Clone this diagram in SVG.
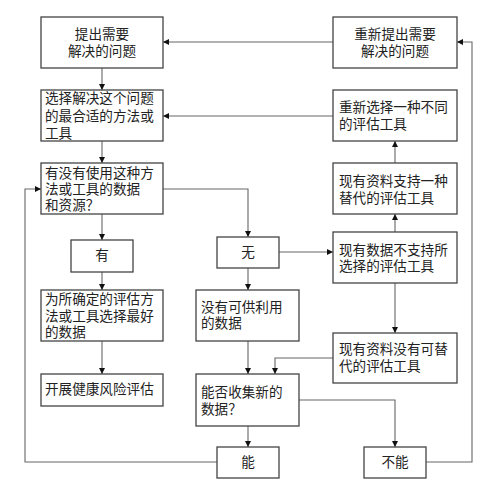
<svg xmlns="http://www.w3.org/2000/svg" width="500" height="491" viewBox="0 0 500 491">
<style>
.box{fill:#fff;stroke:#444;stroke-width:1.3}
.t{font-family:"Liberation Sans","Noto Sans CJK SC",sans-serif;font-size:13.6px;fill:#222}
.m{text-anchor:middle}
.c{fill:none;stroke:#666;stroke-width:1.1}
</style>
<defs>
<marker id="ah" markerUnits="userSpaceOnUse" markerWidth="7" markerHeight="7" refX="6" refY="3" orient="auto">
<path d="M0,0 L6,3 L0,6 z" fill="#111"/>
</marker>
</defs>
<rect width="500" height="491" fill="#fff"/>
<g id="connectors">
<path class="c" d="M102,68 V90" marker-end="url(#ah)"/>
<path class="c" d="M102,141 V163" marker-end="url(#ah)"/>
<path class="c" d="M102,214 V240" marker-end="url(#ah)"/>
<path class="c" d="M102,272 V290" marker-end="url(#ah)"/>
<path class="c" d="M102,341 V374" marker-end="url(#ah)"/>
<path class="c" d="M333,42 H163" marker-end="url(#ah)"/>
<path class="c" d="M333,116 H163" marker-end="url(#ah)"/>
<path class="c" d="M395,163 V141" marker-end="url(#ah)"/>
<path class="c" d="M395,232 V214" marker-end="url(#ah)"/>
<path class="c" d="M395,283 V333" marker-end="url(#ah)"/>
<path class="c" d="M163,189 H248 V237" marker-end="url(#ah)"/>
<path class="c" d="M279,252 H333" marker-end="url(#ah)"/>
<path class="c" d="M248,268 V290" marker-end="url(#ah)"/>
<path class="c" d="M248,341 V374" marker-end="url(#ah)"/>
<path class="c" d="M333,358 H275 V374" marker-end="url(#ah)"/>
<path class="c" d="M248,426 V447" marker-end="url(#ah)"/>
<path class="c" d="M299,400 H395 V447" marker-end="url(#ah)"/>
<path class="c" d="M217,462 H25 V189 H41" marker-end="url(#ah)"/>
<path class="c" d="M426,462 H472 V42 H457" marker-end="url(#ah)"/>
</g>
<g id="n1"><rect class="box" x="41" y="17" width="122" height="51"/>
<text class="t m" x="102" y="38.5">提出需要</text><text class="t m" x="102" y="56">解决的问题</text></g>
<g id="n2"><rect class="box" x="41" y="90" width="122" height="51"/>
<text class="t" x="45" y="103">选择解决这个问题</text><text class="t" x="45" y="121">的最合适的方法或</text><text class="t" x="45" y="138">工具</text></g>
<g id="n3"><rect class="box" x="41" y="163" width="122" height="51"/>
<text class="t" x="45" y="178">有没有使用这种方</text><text class="t" x="45" y="194">法或工具的数据</text><text class="t" x="45" y="210">和资源？</text></g>
<g id="n4"><rect class="box" x="71" y="240" width="62" height="32"/>
<text class="t m" x="102" y="260">有</text></g>
<g id="n5"><rect class="box" x="41" y="290" width="122" height="51"/>
<text class="t" x="45" y="304">为所确定的评估方</text><text class="t" x="45" y="321">法或工具选择最好</text><text class="t" x="45" y="337">的数据</text></g>
<g id="n6"><rect class="box" x="41" y="374" width="122" height="32"/>
<text class="t" x="45" y="394">开展健康风险评估</text></g>
<g id="n7"><rect class="box" x="217" y="237" width="62" height="31"/>
<text class="t m" x="248" y="257">无</text></g>
<g id="n8"><rect class="box" x="196" y="290" width="103" height="51"/>
<text class="t" x="201" y="312">没有可供利用</text><text class="t" x="201" y="328">的数据</text></g>
<g id="n9"><rect class="box" x="196" y="374" width="103" height="52"/>
<text class="t" x="201" y="397">能否收集新的</text><text class="t" x="201" y="414">数据？</text></g>
<g id="n10"><rect class="box" x="217" y="447" width="62" height="31"/>
<text class="t m" x="248" y="467">能</text></g>
<g id="n11"><rect class="box" x="364" y="447" width="62" height="31"/>
<text class="t m" x="395" y="467">不能</text></g>
<g id="n12"><rect class="box" x="333" y="17" width="124" height="51"/>
<text class="t m" x="395" y="38.5">重新提出需要</text><text class="t m" x="395" y="56">解决的问题</text></g>
<g id="n13"><rect class="box" x="333" y="90" width="124" height="51"/>
<text class="t" x="339" y="112">重新选择一种不同</text><text class="t" x="339" y="129">的评估工具</text></g>
<g id="n14"><rect class="box" x="333" y="163" width="124" height="51"/>
<text class="t" x="339" y="186">现有资料支持一种</text><text class="t" x="339" y="203">替代的评估工具</text></g>
<g id="n15"><rect class="box" x="333" y="232" width="124" height="51"/>
<text class="t" x="339" y="255">现有数据不支持所</text><text class="t" x="339" y="271">选择的评估工具</text></g>
<g id="n16"><rect class="box" x="333" y="333" width="124" height="50"/>
<text class="t" x="339" y="354">现有资料没有可替</text><text class="t" x="339" y="371">代的评估工具</text></g>
</svg>
